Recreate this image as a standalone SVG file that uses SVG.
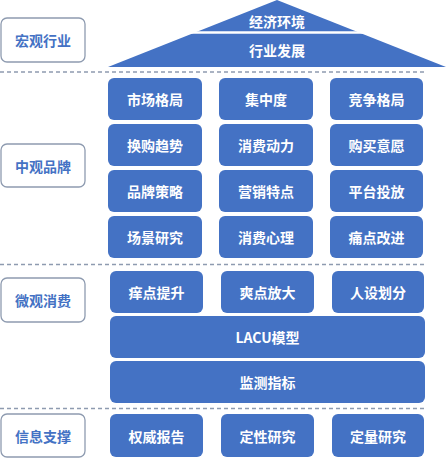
<svg xmlns="http://www.w3.org/2000/svg" width="446" height="458" viewBox="0 0 446 458">
<style>
.b{fill:#4472C4;}
.t{fill:#fff;font-family:"Noto Sans CJK SC","Liberation Sans",sans-serif;font-size:14px;font-weight:bold;text-anchor:middle;dominant-baseline:central;}
.l{fill:#fff;stroke:#8E9BB0;stroke-width:1.3;}
.lt{fill:#4472C4;font-family:"Noto Sans CJK SC","Liberation Sans",sans-serif;font-size:14px;font-weight:bold;text-anchor:middle;dominant-baseline:central;}
.d{stroke:#8E9BB0;stroke-width:1.5;stroke-dasharray:4 3;fill:none;}
</style>
<g id="dividers">
<line class="d" x1="0" y1="72" x2="426" y2="72"/>
<line class="d" x1="0" y1="264.5" x2="426" y2="264.5"/>
<line class="d" x1="0" y1="408.5" x2="426" y2="408.5"/>
</g>
<g id="label-macro"><rect class="l" x="1" y="18" width="84" height="44" rx="6"/><text class="lt" x="43" y="40">宏观行业</text></g>
<g id="label-meso"><rect class="l" x="1" y="144" width="84" height="43" rx="6"/><text class="lt" x="43" y="165.5">中观品牌</text></g>
<g id="label-micro"><rect class="l" x="1" y="278" width="84" height="44" rx="6"/><text class="lt" x="43" y="300">微观消费</text></g>
<g id="label-info"><rect class="l" x="1" y="414" width="84" height="43" rx="6"/><text class="lt" x="43" y="435.5">信息支撑</text></g>
<g id="roof">
<polygon class="b" points="277,0 446,67 108,67"/>
<line x1="150" y1="32.5" x2="400" y2="32.5" stroke="#fff" stroke-width="2.5"/>
<text class="t" x="277" y="21">经济环境</text>
<text class="t" x="277" y="50">行业发展</text>
</g>
<g id="meso-grid">
<g id="n1"><rect class="b" x="108" y="78" width="94" height="42" rx="6"/><text class="t" x="155" y="99">市场格局</text></g>
<g id="n2"><rect class="b" x="219" y="78" width="94" height="42" rx="6"/><text class="t" x="266" y="99">集中度</text></g>
<g id="n3"><rect class="b" x="330" y="78" width="93" height="42" rx="6"/><text class="t" x="376.5" y="99">竞争格局</text></g>
<g id="n4"><rect class="b" x="108" y="124" width="94" height="42" rx="6"/><text class="t" x="155" y="145">换购趋势</text></g>
<g id="n5"><rect class="b" x="219" y="124" width="94" height="42" rx="6"/><text class="t" x="266" y="145">消费动力</text></g>
<g id="n6"><rect class="b" x="330" y="124" width="93" height="42" rx="6"/><text class="t" x="376.5" y="145">购买意愿</text></g>
<g id="n7"><rect class="b" x="108" y="170" width="94" height="42" rx="6"/><text class="t" x="155" y="191">品牌策略</text></g>
<g id="n8"><rect class="b" x="219" y="170" width="94" height="42" rx="6"/><text class="t" x="266" y="191">营销特点</text></g>
<g id="n9"><rect class="b" x="330" y="170" width="93" height="42" rx="6"/><text class="t" x="376.5" y="191">平台投放</text></g>
<g id="n10"><rect class="b" x="108" y="216" width="94" height="42" rx="6"/><text class="t" x="155" y="237">场景研究</text></g>
<g id="n11"><rect class="b" x="219" y="216" width="94" height="42" rx="6"/><text class="t" x="266" y="237">消费心理</text></g>
<g id="n12"><rect class="b" x="330" y="216" width="93" height="42" rx="6"/><text class="t" x="376.5" y="237">痛点改进</text></g>
</g>
<g id="micro">
<g id="m1"><rect class="b" x="110" y="271" width="93" height="42" rx="6"/><text class="t" x="156.5" y="292">痒点提升</text></g>
<g id="m2"><rect class="b" x="221" y="271" width="93" height="42" rx="6"/><text class="t" x="267.5" y="292">爽点放大</text></g>
<g id="m3"><rect class="b" x="332" y="271" width="92" height="42" rx="6"/><text class="t" x="378" y="292">人设划分</text></g>
<g id="m4"><rect class="b" x="110" y="316" width="315" height="42" rx="6"/><text class="t" x="267.5" y="337">LACU模型</text></g>
<g id="m5"><rect class="b" x="110" y="361" width="315" height="42" rx="6"/><text class="t" x="267.5" y="382">监测指标</text></g>
</g>
<g id="info">
<g id="i1"><rect class="b" x="110" y="414" width="93" height="43" rx="6"/><text class="t" x="156.5" y="435.5">权威报告</text></g>
<g id="i2"><rect class="b" x="221" y="414" width="93" height="43" rx="6"/><text class="t" x="267.5" y="435.5">定性研究</text></g>
<g id="i3"><rect class="b" x="332" y="414" width="92" height="43" rx="6"/><text class="t" x="378" y="435.5">定量研究</text></g>
</g>
<g id="connectors"></g>
</svg>
